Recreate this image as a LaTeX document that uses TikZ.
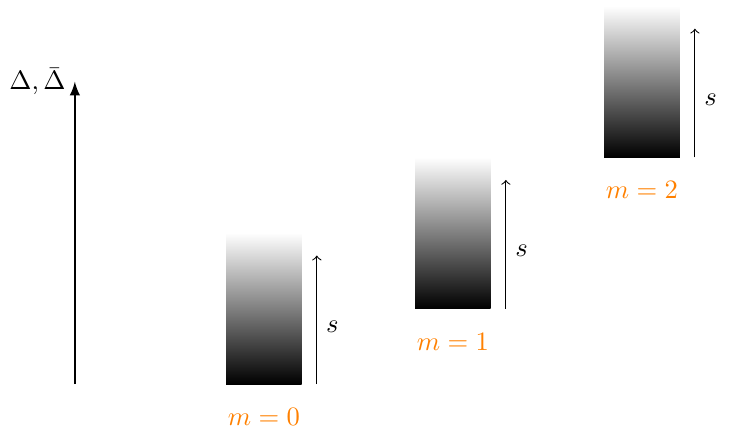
\documentclass[tikz,border=0pt]{standalone}
\usepackage{amsmath}
\usepackage{amssymb}
\usepackage{tikz}
\definecolor{mcolor}{HTML}{FF8000}

\begin{document}
\begin{tikzpicture}
  \useasboundingbox (-0.99,-0.635) rectangle (8.77,5.08);
  % Axis
  \draw[thick, -latex] (0,0) coordinate (axisbot) -- (0,4) coordinate (axistop);
  \node[anchor=east] (axislabel) at (axistop) {$\Delta, \bar{\Delta}$};
  % Shaded towers (bottom raised by m(m+1)/2)
  \foreach \m/\xx/\yy in {0/2/0, 1/4.5/1, 2/7/3} {
    \shade[top color=white, bottom color=black] (\xx,\yy) rectangle ++(1,2);
    \coordinate (sbot\m) at (\xx+1.2,\yy);
    \coordinate (stop\m) at (\xx+1.2,\yy+1.7);
    \draw[->] (sbot\m) -- node[right, pos=0.45] (slabel\m) {$s$} (stop\m);
    \node[mcolor, below] (mlabel\m) at (\xx+0.5,\yy-0.2) {$m=\m$};
  }
\end{tikzpicture}
\end{document}
